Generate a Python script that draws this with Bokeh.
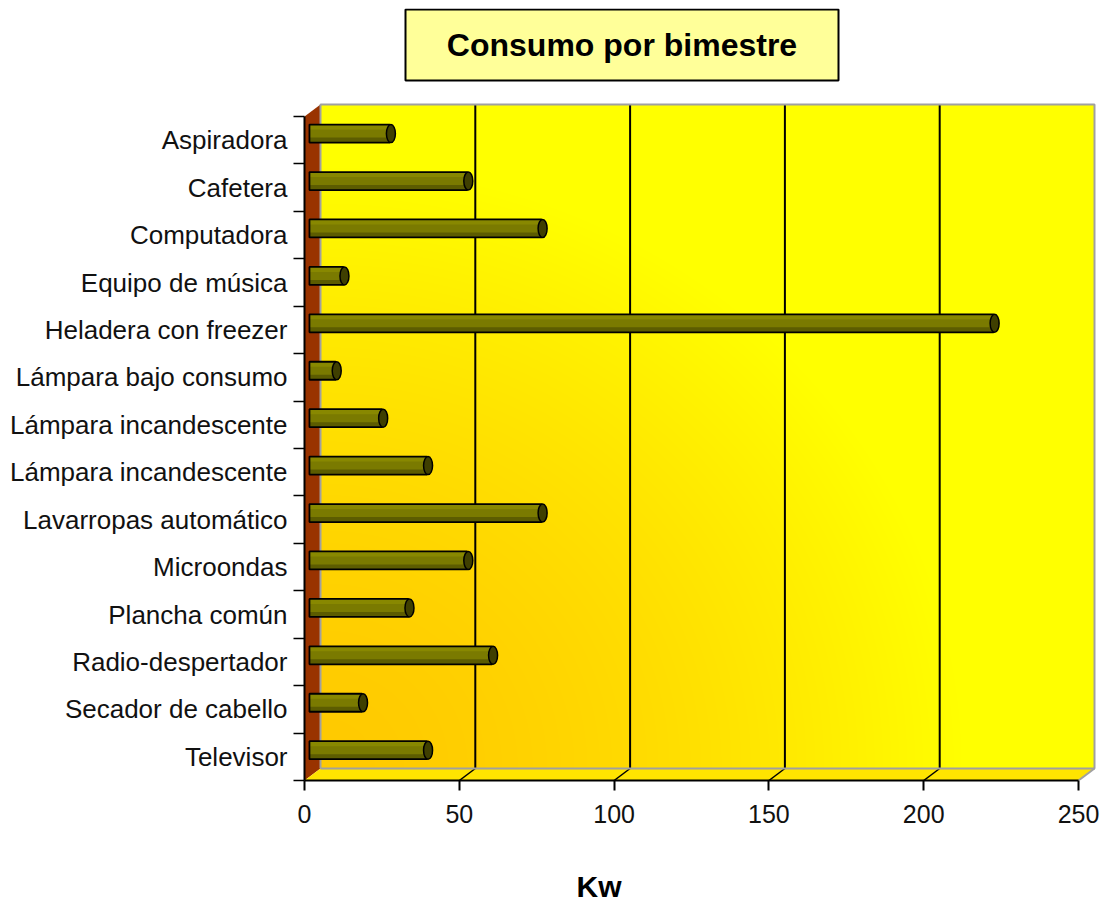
import numpy as np
from bokeh.plotting import figure
from bokeh.models import Range1d, FixedTicker, Title
from bokeh.embed import file_html
from bokeh.resources import INLINE

# ---------------- data ----------------
categories = ["Aspiradora", "Cafetera", "Computadora", "Equipo de música",
              "Heladera con freezer", "Lámpara bajo consumo", "Lámpara incandescente",
              "Lámpara incandescente", "Lavarropas automático", "Microondas",
              "Plancha común", "Radio-despertador", "Secador de cabello", "Televisor"]
consumo = [25, 50, 74, 10, 220, 7.5, 22.5, 37, 74, 50, 31, 58, 16, 37]
x_ticks = [0, 50, 100, 150, 200, 250]
title_text = "Consumo por bimestre"
x_label = "Kw"

# ---------------- geometry ----------------
n = len(categories)
XMAX = x_ticks[-1]
TOP_PAGE, LEFT_PAGE, BOTTOM_PAGE = 8, 304, 780
FRAME_W = 793
FRAME_H = BOTTOM_PAGE - TOP_PAGE
SX = 774 / XMAX            # px per unit (x)
SY = 664 / n               # px per category (y)
DX = 16 / SX               # 3D depth offset in data units
DY = 12 / SY


def px_x(page_x):
    return (page_x - LEFT_PAGE) / SX


def px_y(page_y):
    return (BOTTOM_PAGE - page_y) / SY


p = figure(frame_width=FRAME_W, frame_height=FRAME_H,
           x_range=Range1d(0, FRAME_W / SX), y_range=Range1d(0, FRAME_H / SY),
           output_backend="svg", toolbar_location=None,
           min_border_left=304, min_border_right=4, min_border_top=8, min_border_bottom=124,
           background_fill_color="white", border_fill_color="white")
p.outline_line_color = None
p.xgrid.visible = False
p.ygrid.visible = False

# back wall gradient (orange bottom-left -> yellow top-right)
W, H = 774, 664
u = np.arange(W)[None, :]
w = np.arange(H)[:, None]
d = np.sqrt((u / 640.0) ** 2 + (w / 600.0) ** 2)
f = np.clip(d, 0, 1) ** 1.6
g = (202 + 53 * f).astype(np.uint8)
img = np.empty((H, W), dtype=np.uint32)
view = img.view(dtype=np.uint8).reshape((H, W, 4))
view[..., 0] = 255
view[..., 1] = g
view[..., 2] = 0
view[..., 3] = 255
p.image_rgba(image=[img], x=DX, y=DY, dw=XMAX, dh=n)

# left wall
p.patch([0, 0, DX, DX], [0, n, n + DY, DY], fill_color="#993300", line_color=None)
# floor
p.patch([0, XMAX, XMAX + DX, DX], [0, 0, DY, DY], fill_color="#FFE400", line_color=None)

# grid lines on back wall and floor
inner = x_ticks[1:-1]
p.segment(x0=[v + DX for v in inner], y0=[DY] * len(inner),
          x1=[v + DX for v in inner], y1=[n + DY] * len(inner),
          line_color="black", line_width=2)
p.segment(x0=inner, y0=[0] * len(inner), x1=[v + DX for v in inner], y1=[DY] * len(inner),
          line_color="black", line_width=1.5)

# wall outlines (grey)
p.multi_line(xs=[[DX, DX, XMAX + DX, XMAX + DX, DX], [XMAX, XMAX + DX]],
             ys=[[DY, n + DY, n + DY, DY, DY], [0, DY]],
             line_color="#A0A0A0", line_width=2)

# bars (cylinders at mid depth)
ypos = [n - 1 - k + 0.5 for k in range(n)]
ybar = [y + DY * 0.55 for y in ypos]
bh = 18 / SY
left0 = 1.6
right = [v + DX / 2 for v in consumo]
p.hbar(y=ybar, left=left0, right=right, height=bh, fill_color="#7A7A00", line_color=None)
p.hbar(y=[y + bh / 2 - 2.5 / SY for y in ybar], left=left0, right=right, height=5 / SY,
       fill_color="#888800", line_color=None)
p.hbar(y=[y - bh / 2 + 2.5 / SY for y in ybar], left=left0, right=right, height=5 / SY,
       fill_color="#5C5C00", line_color=None)
p.hbar(y=ybar, left=left0, right=right, height=bh, fill_color=None,
       line_color="black", line_width=1.8)
p.ellipse(x=[r + 1 / SX for r in right], y=ybar, width=9, height=18,
          width_units="screen", height_units="screen",
          fill_color="#3F3F00", line_color="black", line_width=1.5)

# title box (inside the extended frame)
p.quad(left=px_x(405), right=px_x(838), top=px_y(9), bottom=px_y(80),
       fill_color="#FFFF99", line_color="black", line_width=2)
p.text(x=[px_x(621.5)], y=[px_y(44)], text=[title_text],
       text_align="center", text_baseline="middle",
       text_font={"value": "Liberation Sans"}, text_font_style="bold",
       text_font_size="32px", text_color="black")

# axes
FONT = "Liberation Sans"
xa = p.xaxis[0]
xa.ticker = FixedTicker(ticks=x_ticks)
xa.bounds = (0, XMAX)
xa.major_tick_in = 0
xa.major_tick_out = 10
xa.minor_tick_out = 0
xa.axis_line_width = 2
xa.major_tick_line_width = 2
xa.major_label_text_font = FONT
xa.major_label_text_font_size = "25px"
xa.major_label_text_color = "#111111"
xa.major_label_standoff = 14

ya = p.yaxis[0]
ya.ticker = FixedTicker(ticks=ypos, minor_ticks=list(range(n + 1)))
ya.bounds = (0, n)
ya.major_label_overrides = {y: c for y, c in zip(ypos, categories)}
ya.major_tick_line_color = None
ya.major_tick_in = 0
ya.major_tick_out = 11
ya.minor_tick_in = 0
ya.minor_tick_out = 11
ya.minor_tick_line_width = 1.5
ya.axis_line_width = 2
ya.major_label_text_font = FONT
ya.major_label_text_font_size = "26px"
ya.major_label_text_color = "#111111"
ya.major_label_standoff = 6

# axis title "Kw"
p.add_layout(Title(text=x_label, align="left", offset=272, standoff=84,
                   text_font=FONT, text_font_style="bold", text_font_size="30px",
                   text_color="black"), "below")

open("out.html", "w").write(file_html(p, INLINE))
